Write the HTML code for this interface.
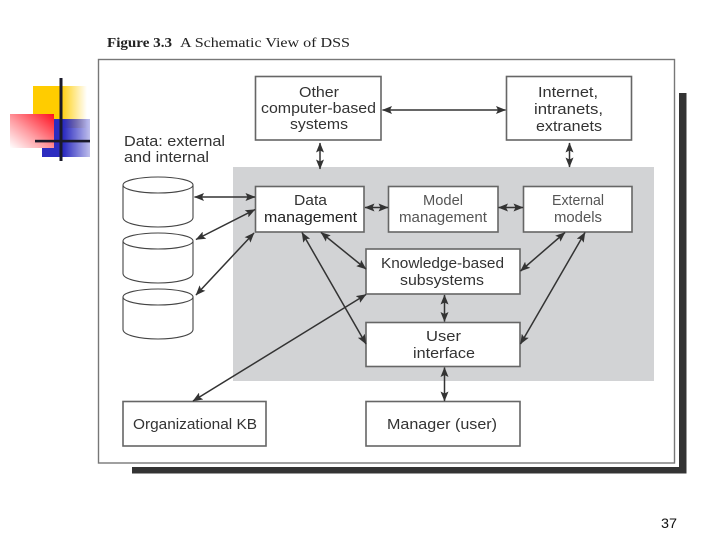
<!DOCTYPE html>
<html>
<head>
<meta charset="utf-8">
<style>
html,body{margin:0;padding:0;background:#fff}
svg{display:block}
.t{font-family:"Liberation Sans",sans-serif;font-size:14.5px;fill:#333}
.b{fill:#fff;stroke:#666;stroke-width:1.6}
.c{fill:#fff;stroke:#444;stroke-width:1.1}
.a{stroke:#333;stroke-width:1.5;fill:none;marker-start:url(#h);marker-end:url(#h)}
</style>
</head>
<body>
<svg width="720" height="540" viewBox="0 0 720 540" xmlns="http://www.w3.org/2000/svg">
<defs>
<marker id="h" viewBox="0 0 10 8" refX="9.5" refY="4" markerUnits="userSpaceOnUse" markerWidth="10" markerHeight="8" orient="auto-start-reverse"><path d="M0 0L10 4L0 8L2 4Z" fill="#333"/></marker>
<linearGradient id="y" x1="0" x2="1" y1="0" y2="0"><stop offset=".5" stop-color="#ffcc00"/><stop offset="1" stop-color="#ffcc00" stop-opacity="0"/></linearGradient>
<linearGradient id="bl" x1="0" x2="1" y1="0" y2="0"><stop offset=".45" stop-color="#2c2cc0"/><stop offset="1" stop-color="#2c2cc0" stop-opacity=".3"/></linearGradient>
<linearGradient id="r" x1="1" x2="0" y1="0" y2="1"><stop offset="0" stop-color="#ff0f1f"/><stop offset=".55" stop-color="#ff9aa0"/><stop offset="1" stop-color="#fff"/></linearGradient>
</defs>

<rect x="33" y="86" width="54" height="42" fill="url(#y)"/>
<rect x="42" y="119" width="48" height="38" fill="url(#bl)"/>
<rect x="10" y="114" width="44" height="34" fill="url(#r)"/>
<rect x="59.5" y="78" width="3" height="83" fill="#1a1a2a"/>
<rect x="35" y="139.8" width="55" height="2.6" fill="#1a1a2a"/>

<text x="107" y="47" font-family="Liberation Serif,serif" font-size="14" font-weight="bold" fill="#222" textLength="65" lengthAdjust="spacingAndGlyphs">Figure 3.3</text>
<text x="180" y="47" font-family="Liberation Serif,serif" font-size="14" fill="#222" textLength="170" lengthAdjust="spacingAndGlyphs">A Schematic View of DSS</text>

<rect x="679" y="93" width="7.5" height="380" fill="#333"/>
<rect x="132" y="467" width="554.5" height="6.5" fill="#333"/>
<rect x="98.5" y="59.5" width="576" height="403.5" fill="#fff" stroke="#777" stroke-width="1.4"/>
<rect x="233" y="167" width="421" height="214" fill="#d2d3d5"/>

<g class="c">
<path class="c" d="M123 186V217.5C123 223 139 227 158 227S193 223 193 217.5V186Z"/><ellipse class="c" cx="158" cy="185" rx="35" ry="8"/>
<path class="c" d="M123 241V273.5C123 279 139 283 158 283S193 279 193 273.5V241Z"/><ellipse class="c" cx="158" cy="241" rx="35" ry="8"/>
<path class="c" d="M123 297V329.5C123 335 139 339 158 339S193 335 193 329.5V297Z"/><ellipse class="c" cx="158" cy="297" rx="35" ry="8"/>
</g>

<rect class="b" x="255.5" y="76.5" width="125.5" height="63.5"/>
<rect class="b" x="506.5" y="76.5" width="125" height="63.5"/>
<rect class="b" x="255.5" y="186.5" width="108.5" height="45.5"/>
<rect class="b" x="388.5" y="186.5" width="109.5" height="45.5"/>
<rect class="b" x="523.5" y="186.5" width="108.5" height="45.5"/>
<rect class="b" x="366" y="249" width="154" height="45"/>
<rect class="b" x="366" y="322.5" width="154" height="44"/>
<rect class="b" x="366" y="401.5" width="154" height="44.5"/>
<rect class="b" x="123" y="401.5" width="143" height="44.5"/>

<line class="a" x1="382.5" y1="110" x2="505.5" y2="110"/>
<line class="a" x1="320" y1="143" x2="320" y2="169"/>
<line class="a" x1="569.5" y1="143" x2="569.5" y2="167"/>
<line class="a" x1="365" y1="207.5" x2="388" y2="207.5"/>
<line class="a" x1="498.5" y1="207.5" x2="523" y2="207.5"/>
<line class="a" x1="194.5" y1="197" x2="255" y2="197"/>
<line class="a" x1="196" y1="239.5" x2="255" y2="209.5"/>
<line class="a" x1="196" y1="295" x2="254" y2="233"/>
<line class="a" x1="321" y1="232.5" x2="366" y2="269"/>
<line class="a" x1="302" y1="232.5" x2="366" y2="344"/>
<line class="a" x1="366" y1="294.5" x2="193" y2="401"/>
<line class="a" x1="565" y1="232.5" x2="520.5" y2="271"/>
<line class="a" x1="585" y1="232.5" x2="520.5" y2="344"/>
<line class="a" x1="444.5" y1="295" x2="444.5" y2="321.5"/>
<line class="a" x1="444.5" y1="367.5" x2="444.5" y2="401"/>

<g class="t">
<text x="124" y="146" textLength="101" lengthAdjust="spacingAndGlyphs">Data: external</text>
<text x="124" y="162" textLength="85" lengthAdjust="spacingAndGlyphs">and internal</text>
<text x="299" y="97" textLength="40" lengthAdjust="spacingAndGlyphs">Other</text>
<text x="261" y="113" textLength="115" lengthAdjust="spacingAndGlyphs">computer-based</text>
<text x="290" y="129" textLength="58" lengthAdjust="spacingAndGlyphs">systems</text>
<text x="538" y="97" textLength="60" lengthAdjust="spacingAndGlyphs">Internet,</text>
<text x="534" y="114" textLength="69" lengthAdjust="spacingAndGlyphs">intranets,</text>
<text x="536" y="131" textLength="66" lengthAdjust="spacingAndGlyphs">extranets</text>
<text x="294" y="205" textLength="33" lengthAdjust="spacingAndGlyphs">Data</text>
<text x="264" y="222" textLength="93" lengthAdjust="spacingAndGlyphs" fill="#222">management</text>
<text x="423" y="205" textLength="40" lengthAdjust="spacingAndGlyphs" fill="#555">Model</text>
<text x="399" y="222" textLength="88" lengthAdjust="spacingAndGlyphs" fill="#555">management</text>
<text x="552" y="205" textLength="52" lengthAdjust="spacingAndGlyphs" fill="#555">External</text>
<text x="554" y="222" textLength="48" lengthAdjust="spacingAndGlyphs" fill="#555">models</text>
<text x="381" y="268" textLength="123" lengthAdjust="spacingAndGlyphs">Knowledge-based</text>
<text x="400" y="285" textLength="84" lengthAdjust="spacingAndGlyphs">subsystems</text>
<text x="426" y="341" textLength="35" lengthAdjust="spacingAndGlyphs">User</text>
<text x="413" y="358" textLength="62" lengthAdjust="spacingAndGlyphs">interface</text>
<text x="387" y="429" textLength="110" lengthAdjust="spacingAndGlyphs">Manager (user)</text>
<text x="133" y="429" textLength="124" lengthAdjust="spacingAndGlyphs">Organizational KB</text>
</g>

<text x="661" y="528" font-family="Liberation Sans,sans-serif" font-size="14" fill="#111" textLength="16" lengthAdjust="spacingAndGlyphs">37</text>
</svg>
</body>
</html>
